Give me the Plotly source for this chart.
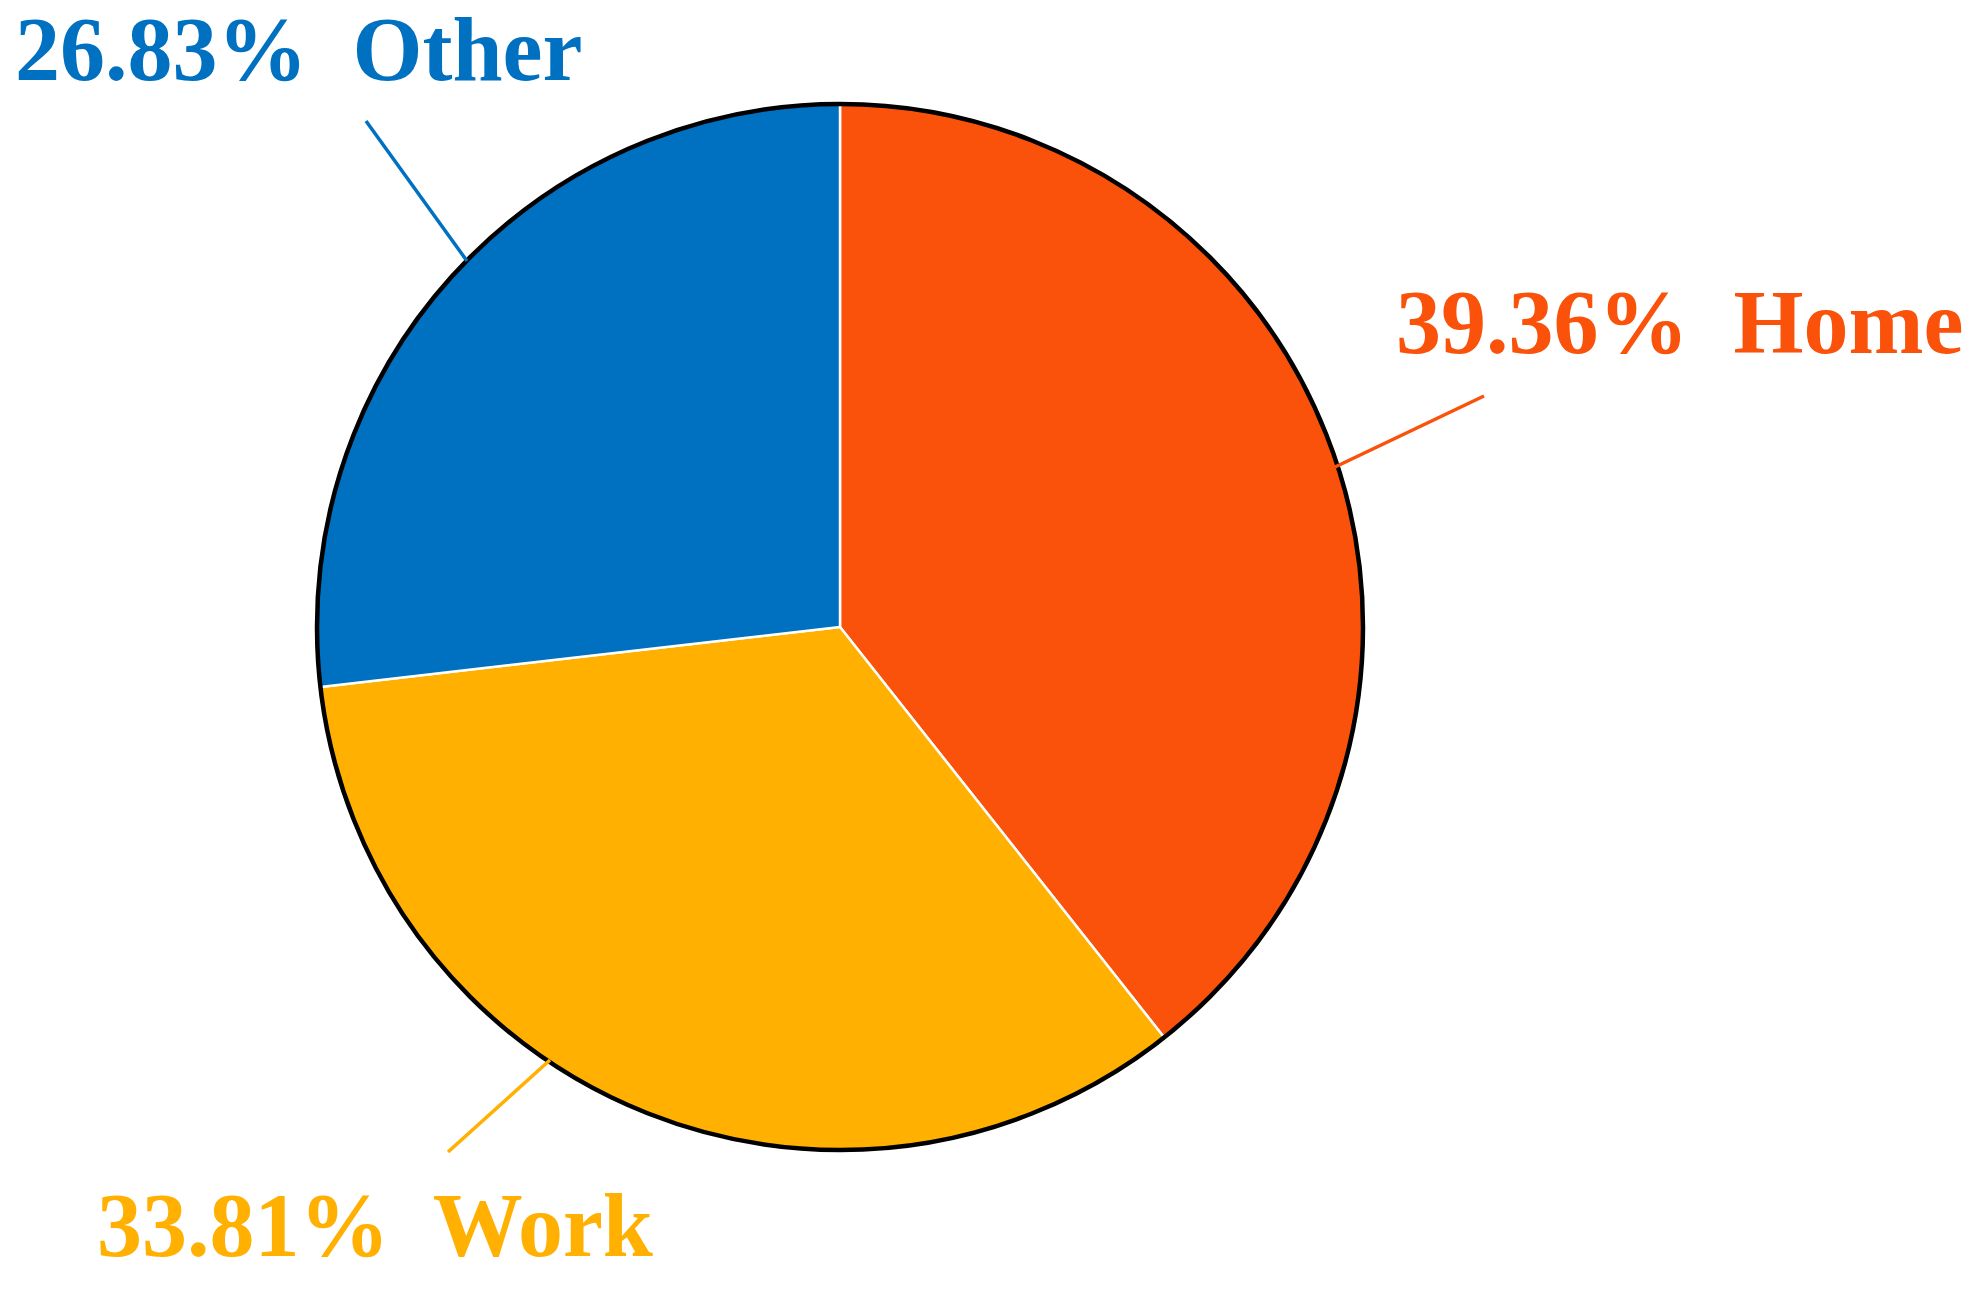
import plotly.graph_objects as go

categories = ["Home", "Work", "Other"]
values = [39.36, 33.81, 26.83]
colors = ["#FA520A", "#FFB000", "#0070C0"]
label_texts = ["39.36%  Home", "33.81%  Work", "26.83%  Other"]

W, H = 1979, 1292
cx, cy, r = 840, 627, 523

fig = go.Figure()
fig.add_trace(go.Pie(
    labels=categories, values=values, sort=False, direction="clockwise", rotation=0,
    marker=dict(colors=colors, line=dict(color="white", width=2.5)),
    textinfo="none", hoverinfo="label+percent", showlegend=False,
    domain=dict(x=[(cx - r) / W, (cx + r) / W], y=[1 - (cy + r) / H, 1 - (cy - r) / H]),
))

# outer black outline
fig.add_shape(type="circle", xref="x", yref="y", x0=cx - r, x1=cx + r, y0=cy - r, y1=cy + r,
              line=dict(color="black", width=4.5), layer="above")

# label positions (left x, vertical center y) in pixel space, and leader lines
label_pos = [(1394, 322), (95, 1225), (13, 49)]
leaders = [((1484, 396), (1335, 467)), ((448, 1152), (550, 1060)), ((366, 121), (467, 261))]

for txt, col, (lx, ly), ((x0, y0), (x1, y1)) in zip(label_texts, colors, label_pos, leaders):
    fig.add_annotation(x=lx, y=ly, xref="x", yref="y", text="<b>" + txt + "</b>", showarrow=False,
                       xanchor="left", yanchor="middle",
                       font=dict(family="Liberation Serif, Times New Roman, serif", size=90, color=col))
    fig.add_shape(type="line", xref="x", yref="y", x0=x0, y0=y0, x1=x1, y1=y1,
                  line=dict(color=col, width=3.5))

fig.update_layout(
    width=W, height=H, margin=dict(l=0, r=0, t=0, b=0),
    paper_bgcolor="white", plot_bgcolor="rgba(0,0,0,0)",
    xaxis=dict(range=[0, W], visible=False, fixedrange=True),
    yaxis=dict(range=[H, 0], visible=False, fixedrange=True),
)

fig.write_html("out.html", config={"displayModeBar": False},
               post_script="document.body.style.margin='0';document.body.style.overflow='hidden';")
